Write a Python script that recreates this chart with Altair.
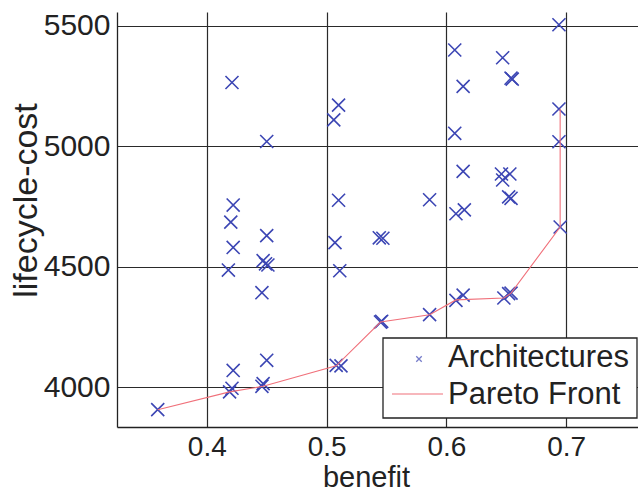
import altair as alt
import pandas as pd

# Scatter: all architectures (benefit, lifecycle-cost)
benefit = [0.359, 0.419, 0.421, 0.422, 0.418, 0.422, 0.420, 0.422, 0.421,
           0.446, 0.447, 0.450, 0.446, 0.447, 0.451, 0.449, 0.450, 0.450,
           0.508, 0.512, 0.511, 0.507, 0.510, 0.506, 0.510,
           0.545, 0.546, 0.544, 0.547, 0.586, 0.586,
           0.608, 0.614, 0.608, 0.615, 0.614, 0.607, 0.614, 0.607,
           0.648, 0.654, 0.652, 0.646, 0.653, 0.647, 0.652, 0.654, 0.647, 0.654, 0.655,
           0.695, 0.694, 0.694, 0.694]
cost = [3906, 3980, 3995, 4069, 4486, 4580, 4685, 4756, 5265,
        4003, 4014, 4111, 4392, 4525, 4507, 4512, 4629, 5020,
        4090, 4088, 4483, 4600, 4776, 5110, 5171,
        4270, 4273, 4620, 4618, 4301, 4778,
        4360, 4382, 4720, 4736, 4896, 5054, 5249, 5400,
        4370, 4390, 4388, 4885, 4885, 4860, 4790, 4784, 5368, 5283, 5279,
        4665, 5019, 5155, 5505]

# Pareto front
pareto_benefit = [0.359, 0.419, 0.447, 0.508, 0.545, 0.586, 0.608, 0.648, 0.654, 0.695, 0.695]
pareto_cost = [3906, 3980, 4003, 4088, 4270, 4300, 4362, 4370, 4390, 4665, 5155]

x_ticks = [0.4, 0.5, 0.6, 0.7]
y_ticks = [4000, 4500, 5000, 5500]
legend_labels = ["Architectures", "Pareto Front"]

BLUE = "#3c46b4"
RED = "#f0707a"
XPATH = "M-1,-1L1,1M-1,1L1,-1"
FONT = "Liberation Sans"

pts = pd.DataFrame({"benefit": benefit, "cost": cost})
par = pd.DataFrame({"benefit": pareto_benefit, "cost": pareto_cost, "order": range(len(pareto_cost))})

xs = alt.Scale(domain=[0.325, 0.76], nice=False, zero=False)
ys = alt.Scale(domain=[3834, 5558], nice=False, zero=False)

xaxis = alt.Axis(values=x_ticks, format=".1f", grid=True, ticks=False,
                 labelFontSize=28, labelPadding=6, titleFontSize=29, titlePadding=2,
                 titleX=249,
                 labelFont=FONT, titleFont=FONT, titleFontWeight="normal",
                 labelColor="#222", titleColor="#222",
                 domainColor="#222", domainWidth=1.3, gridColor="#2a2a2a", gridWidth=1.2, gridOpacity=1)
yaxis = alt.Axis(values=y_ticks, format="d", grid=True, ticks=False,
                 labelFontSize=30, labelPadding=7, titleFontSize=34,
                 labelFont=FONT, titleFont=FONT, titleFontWeight="normal",
                 labelColor="#222", titleColor="#222",
                 titleX=-91, titleY=188, titleAlign="center", titleBaseline="middle",
                 domainColor="#222", domainWidth=1.3, gridColor="#2a2a2a", gridWidth=1.2, gridOpacity=1)

scatter = alt.Chart(pts).mark_point(shape=XPATH, filled=False, color=BLUE, size=170, strokeWidth=1.6, opacity=1).encode(
    x=alt.X("benefit:Q", scale=xs, axis=xaxis, title="benefit"),
    y=alt.Y("cost:Q", scale=ys, axis=yaxis, title="lifecycle-cost"),
)

line = alt.Chart(par).mark_line(color=RED, strokeWidth=1.1).encode(
    x=alt.X("benefit:Q", scale=xs),
    y=alt.Y("cost:Q", scale=ys),
    order="order:O",
)

leg_box = alt.Chart(pd.DataFrame({"a": [0]})).mark_rect(fill="white", stroke="#222", strokeWidth=1.3).encode(
    x=alt.value(266), x2=alt.value(520), y=alt.value(326), y2=alt.value(406))
leg_text1 = alt.Chart(pd.DataFrame({"label": [legend_labels[0]]})).mark_text(
    align="left", baseline="middle", fontSize=31, font=FONT, color="#222").encode(
    x=alt.value(331), y=alt.value(346), text="label:N")
leg_text2 = alt.Chart(pd.DataFrame({"label": [legend_labels[1]]})).mark_text(
    align="left", baseline="middle", fontSize=31, font=FONT, color="#222").encode(
    x=alt.value(331), y=alt.value(383), text="label:N")
leg_sym = alt.Chart(pd.DataFrame({"a": [0]})).mark_point(shape=XPATH, filled=False, color=BLUE, size=30, strokeWidth=1.3).encode(
    x=alt.value(302), y=alt.value(347))
leg_line = alt.Chart(pd.DataFrame({"a": [0]})).mark_rule(color=RED, strokeWidth=1.1).encode(
    x=alt.value(275), x2=alt.value(326), y=alt.value(382))

chart = alt.layer(scatter, line, leg_box, leg_text1, leg_text2, leg_sym, leg_line).properties(
    width=521, height=415,
    padding={"left": 117, "top": 12, "right": 0, "bottom": 66},
    autosize=alt.AutoSizeParams(type="none"),
    background="white",
).configure_view(stroke=None)

chart.save("out.html", embed_options={"renderer": "svg", "actions": False})
